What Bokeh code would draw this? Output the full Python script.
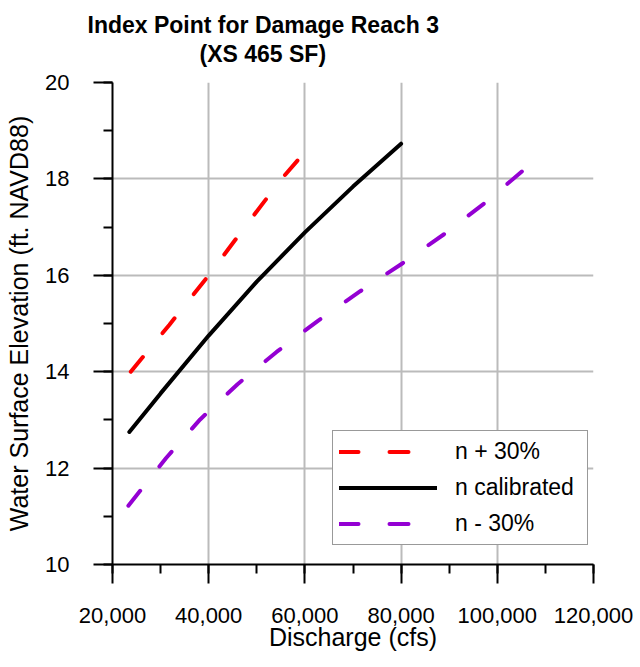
from bokeh.plotting import figure
from bokeh.models import (Range1d, SingleIntervalTicker, NumeralTickFormatter,
                          Legend, LegendItem, Title)
from bokeh.embed import file_html
from bokeh.resources import INLINE

# ---- data ----
plus_q = [23800, 31800, 40000, 47500, 55150, 59500]
plus_wse = [14.0, 14.97, 16.0, 17.0, 18.0, 18.5]

cal_q = [23500, 30000, 40000, 50000, 60000, 70000, 80000]
cal_wse = [12.75, 13.55, 14.75, 15.87, 16.89, 17.84, 18.73]

minus_q = [23300, 31150, 38220, 46000, 54110, 62640, 71510, 80320, 89190, 97650, 106600]
minus_wse = [11.22, 12.21, 13.01, 13.74, 14.41, 15.05, 15.67, 16.25, 16.87, 17.52, 18.28]

labels = ["n + 30%", "n calibrated", "n - 30%"]
title_lines = ["Index Point for Damage Reach 3", "(XS 465 SF)"]

FONT = "Liberation Sans"

p = figure(frame_width=481, frame_height=482,
           x_range=Range1d(20000, 120000), y_range=Range1d(10, 20),
           output_backend="svg", toolbar_location=None, title=None,
           min_border_left=112, min_border_right=40,
           min_border_top=82, min_border_bottom=95)
p.outline_line_color = None
p.background_fill_color = "white"
p.border_fill_color = "white"

p.add_layout(Title(text=title_lines[1], align="left", offset=87,
                   text_font_size="23px", text_font=FONT, text_font_style="bold",
                   text_color="black", standoff=32), "above")
p.add_layout(Title(text=title_lines[0], align="left", offset=-25,
                   text_font_size="23px", text_font=FONT, text_font_style="bold",
                   text_color="black", standoff=-31), "above")

xt = SingleIntervalTicker(interval=20000, num_minor_ticks=2)
yt = SingleIntervalTicker(interval=2, num_minor_ticks=2)
p.xaxis.ticker = xt
p.yaxis.ticker = yt
p.xgrid.ticker = xt
p.ygrid.ticker = yt
p.xaxis.formatter = NumeralTickFormatter(format="0,0")
p.xaxis.axis_label = "Discharge (cfs)"
p.yaxis.axis_label = "Water Surface Elevation (ft. NAVD88)"

for ax in (p.xaxis, p.yaxis):
    ax.axis_line_color = "black"
    ax.axis_line_width = 2
    ax.major_tick_line_color = "black"
    ax.major_tick_line_width = 2
    ax.major_tick_out = 19
    ax.major_tick_in = 0
    ax.minor_tick_line_color = "black"
    ax.minor_tick_line_width = 2
    ax.minor_tick_out = 9
    ax.minor_tick_in = 0
    ax.major_label_text_font = FONT
    ax.major_label_text_font_size = "22px"
    ax.major_label_text_color = "black"
    ax.axis_label_text_font = FONT
    ax.axis_label_text_font_size = "25px"
    ax.axis_label_text_font_style = "normal"
    ax.axis_label_text_color = "black"

p.xaxis.major_label_standoff = 24
p.yaxis.major_label_standoff = 24
p.xaxis.axis_label_standoff = -3
p.yaxis.axis_label_standoff = 9

for g in (p.xgrid, p.ygrid):
    g.grid_line_color = "#bbbbbb"
    g.grid_line_width = 2

r1 = p.line(plus_q, plus_wse, line_color="#ff0000", line_width=4,
            line_dash="19 31", line_cap="round")
r2 = p.line(cal_q, cal_wse, line_color="black", line_width=4, line_cap="round")
r3 = p.line(minus_q, minus_wse, line_color="#9400d3", line_width=4,
            line_dash="19 31", line_cap="round")

legend = Legend(items=[LegendItem(label=labels[0], renderers=[r1]),
                       LegendItem(label=labels[1], renderers=[r2]),
                       LegendItem(label=labels[2], renderers=[r3])],
                location=(220, 19), glyph_width=98, glyph_height=29,
                label_height=29, label_width=126, label_standoff=18,
                spacing=7, padding=6,
                margin=0, border_line_color="#333333", border_line_width=1,
                label_text_font=FONT, label_text_font_size="23px",
                label_text_color="black", background_fill_alpha=1.0)
p.add_layout(legend)

open("out.html", "w").write(file_html(p, INLINE))
